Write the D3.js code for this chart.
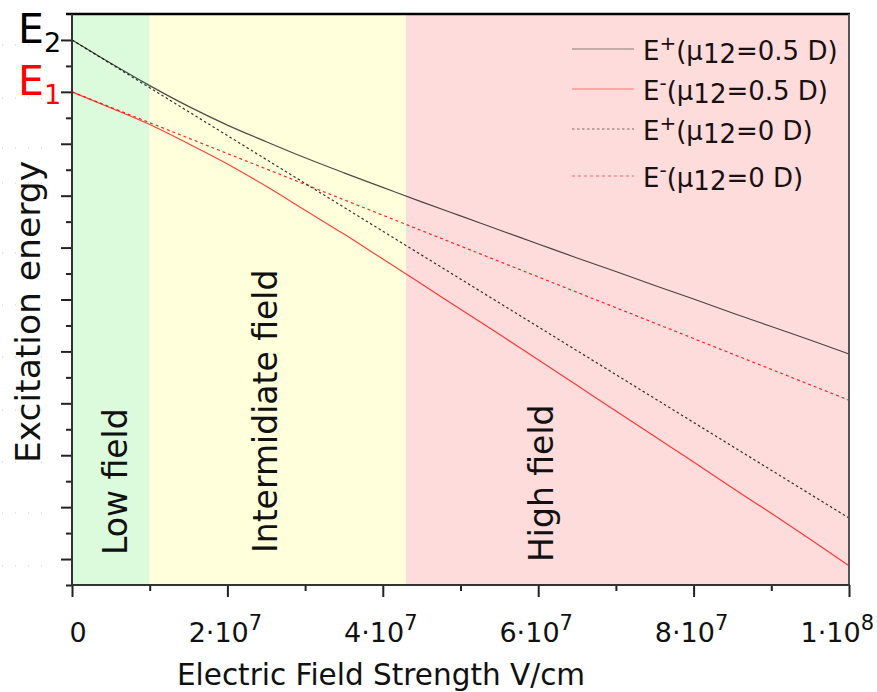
<!DOCTYPE html>
<html>
<head>
<meta charset="utf-8">
<script src="https://cdn.jsdelivr.net/npm/d3@7"></script>
<style>
    body { margin: 0; background: #fff; }
    text { font-family: "DejaVu Sans", Verdana, sans-serif; }
</style>
</head>
<body>
<svg id="chart" width="877" height="692"></svg>
<script>

// field strength in V/cm, energies in units of the E2-E1 splitting (E2 = 0)
const fieldStrength = [0, 5e6, 1e7, 1.5e7, 2e7, 2.5e7, 3e7, 3.5e7, 4e7, 4.5e7, 5e7,
    5.5e7, 6e7, 6.5e7, 7e7, 7.5e7, 8e7, 8.5e7, 9e7, 9.5e7, 1e8]
const ePlusCoupled = [0, -0.45, -0.88, -1.28, -1.64, -1.96, -2.27, -2.56, -2.84, -3.12, -3.39,
    -3.66, -3.93, -4.20, -4.46, -4.73, -4.99, -5.26, -5.52, -5.78, -6.05]
const eMinusCoupled = [-1, -1.31, -1.63, -2.00, -2.39, -2.82, -3.28, -3.74, -4.22, -4.70, -5.19,
    -5.67, -6.16, -6.65, -7.15, -7.64, -8.13, -8.63, -9.12, -9.62, -10.13]

const fieldEnds = [0, 1e8]
const ePlusFree = [0, -9.21]
const eMinusFree = [-1, -6.94]

const regionBounds = [0, 1e7, 4.3e7, 1e8]
const regionNames = ["Low field", "Intermidiate field", "High field"]
const regionColors = ["#dcfadc", "#ffffdc", "#ffdcdc"]

const xTicks = [0, 2e7, 4e7, 6e7, 8e7, 1e8]
const xTickMantissa = ["0", "2·10", "4·10", "6·10", "8·10", "1·10"]
const xTickExponent = ["", "7", "7", "7", "7", "8"]

const legendSup = ["+", "-", "+", "-"]
const legendMu = ["=0.5 D)", "=0.5 D)", "=0 D)", "=0 D)"]


function drawChart() {

    const width = 877
    const height = 692
    const margin = { top: 14, right: 28, bottom: 107, left: 72 }

    const svg = d3.select('#chart')

    const xScale = d3.scaleLinear()
        .domain([0, 1e8])
        .range([margin.left, width - margin.right])

    const yScale = d3.scaleLinear()
        .domain([-10.5, 0.5])
        .range([height - margin.bottom, margin.top])

    const y0 = yScale.range()[0]
    const y1 = yScale.range()[1]

    // coloured field regions
    svg.selectAll('.region')
        .data(regionNames)
        .enter()
        .append('rect')
        .attr('x', (d, i) => xScale(regionBounds[i]))
        .attr('y', y1)
        .attr('width', (d, i) => xScale(regionBounds[i + 1]) - xScale(regionBounds[i]))
        .attr('height', y0 - y1)
        .attr('fill', (d, i) => regionColors[i])

    // region labels, rotated
    const labelX = [127, 277, 553]
    const labelY = [555, 553, 562]
    svg.selectAll('.regionLabel')
        .data(regionNames)
        .enter()
        .append('text')
        .attr('transform', (d, i) => 'translate(' + labelX[i] + ',' + labelY[i] + ') rotate(-90)')
        .style('font-size', '33px')
        .attr('fill', '#111')
        .text(d => d)

    // curves
    const line = d3.line()
        .x(d => xScale(d[0]))
        .y(d => yScale(d[1]))
        .curve(d3.curveMonotoneX)

    const series = [
        { pts: d3.zip(fieldStrength, ePlusCoupled), color: '#000', op: 0.7, dash: null },
        { pts: d3.zip(fieldStrength, eMinusCoupled), color: '#ff0000', op: 0.75, dash: null },
        { pts: d3.zip(fieldEnds, ePlusFree), color: '#000', op: 0.8, dash: '2.5,2.5' },
        { pts: d3.zip(fieldEnds, eMinusFree), color: '#ff0000', op: 0.85, dash: '3,3' }
    ]

    svg.selectAll('.curve')
        .data(series)
        .enter()
        .append('path')
        .attr('d', d => line(d.pts))
        .attr('fill', 'none')
        .attr('stroke', d => d.color)
        .attr('stroke-opacity', d => d.op)
        .attr('stroke-width', 1.2)
        .attr('stroke-dasharray', d => d.dash)

    // legend
    const legendY = [49, 89, 129, 176]
    const lg = svg.append('g')
    series.forEach(function (s, i) {
        lg.append('line')
            .attr('x1', 572).attr('x2', 634)
            .attr('y1', legendY[i]).attr('y2', legendY[i])
            .attr('stroke', s.color)
            .attr('stroke-opacity', s.op * 0.65)
            .attr('stroke-width', 1.2)
            .attr('stroke-dasharray', s.dash)

        const t = lg.append('text')
            .attr('x', 643)
            .attr('y', legendY[i] + 11)
            .style('font-size', '26px')
            .attr('fill', '#1a1010')
        t.append('tspan').text('E')
        t.append('tspan').attr('dy', -10).style('font-size', '20px').text(legendSup[i])
        t.append('tspan').attr('dy', 10).text('(μ')
        t.append('tspan').attr('dy', 3).text('12')
        t.append('tspan').attr('dy', -3).text(legendMu[i])
    })

    // faint dotted rests at the left edge
    const ghostY = [45, 98, 148, 183, 253, 305, 357, 410, 462, 513, 566]
    svg.selectAll('.ghost')
        .data(ghostY)
        .enter()
        .append('line')
        .attr('x1', 2).attr('x2', 42)
        .attr('y1', d => d).attr('y2', d => d)
        .attr('stroke', '#c8c8c8')
        .attr('stroke-dasharray', '1,12')

    // y axis: major and minor ticks
    const yMajor = d3.range(-10, 1, 1)
    const yMinor = d3.range(-10.5, 0, 1)

    svg.append('g')
        .attr('transform', 'translate(' + margin.left + ',0)')
        .call(d3.axisLeft(yScale).tickValues(yMinor).tickSize(6).tickFormat(''))
        .call(g => g.select('.domain').remove())
        .selectAll('line').attr('stroke-width', 2).attr('stroke', '#222')

    svg.append('g')
        .attr('transform', 'translate(' + margin.left + ',0)')
        .call(d3.axisLeft(yScale).tickValues(yMajor).tickSize(11).tickFormat(''))
        .call(g => g.select('.domain').remove())
        .selectAll('line').attr('stroke-width', 2).attr('stroke', '#222')

    // x axis
    const xMinor = [1e7, 3e7, 5e7, 7e7, 9e7]
    svg.append('g')
        .attr('transform', 'translate(0,' + y0 + ')')
        .call(d3.axisBottom(xScale).tickValues(xMinor).tickSize(6).tickFormat(''))
        .call(g => g.select('.domain').remove())
        .selectAll('line').attr('stroke-width', 2).attr('stroke', '#222')

    svg.append('g')
        .attr('transform', 'translate(0,' + y0 + ')')
        .call(d3.axisBottom(xScale).tickValues(xTicks).tickSize(12).tickFormat(''))
        .call(g => g.select('.domain').remove())
        .selectAll('line').attr('stroke-width', 2).attr('stroke', '#222')

    // frame
    svg.append('line')
        .attr('x1', 66).attr('x2', xScale(1e8) + 1)
        .attr('y1', y1).attr('y2', y1)
        .attr('stroke', '#000').attr('stroke-width', 2.5)
    svg.append('line')
        .attr('x1', xScale(1e8)).attr('x2', xScale(1e8))
        .attr('y1', y1).attr('y2', y0)
        .attr('stroke', '#555').attr('stroke-width', 2)
    svg.append('line')
        .attr('x1', margin.left).attr('x2', margin.left)
        .attr('y1', y1).attr('y2', y0 + 1)
        .attr('stroke', '#333').attr('stroke-width', 2)
    svg.append('line')
        .attr('x1', margin.left - 1).attr('x2', xScale(1e8) + 1)
        .attr('y1', y0).attr('y2', y0)
        .attr('stroke', '#333').attr('stroke-width', 2)

    // x tick labels with exponents
    const xl = svg.selectAll('.xlabel')
        .data(xTicks)
        .enter()
        .append('text')
        .attr('x', (d, i) => i == 0 ? xScale(d) + 6 : (i == xTicks.length - 1 ? 874 : xScale(d) - 2))
        .attr('y', 642)
        .attr('text-anchor', (d, i) => i == xTicks.length - 1 ? 'end' : 'middle')
        .style('font-size', '27px')
        .attr('fill', '#111')
    xl.append('tspan').text((d, i) => xTickMantissa[i])
    xl.append('tspan').attr('dy', -12).style('font-size', '21px').text((d, i) => xTickExponent[i])

    // level labels E2 and E1
    const levels = [{ v: 0, sub: '2', color: '#000' }, { v: -1, sub: '1', color: '#ff0000' }]
    levels.forEach(function (l) {
        const t = svg.append('text')
            .attr('x', 18)
            .attr('y', yScale(l.v) + 3)
            .style('font-size', '41px')
            .attr('fill', l.color)
        t.append('tspan').text('E')
        t.append('tspan').attr('dy', 9).style('font-size', '27px').text(l.sub)
    })

    // axis titles
    svg.append('text')
        .attr('x', 381)
        .attr('y', 685)
        .attr('text-anchor', 'middle')
        .style('font-size', '29.5px')
        .attr('fill', '#111')
        .text('Electric Field Strength V/cm')

    svg.append('text')
        .attr('transform', 'translate(40,' + 312 + ') rotate(-90)')
        .attr('text-anchor', 'middle')
        .style('font-size', '34.5px')
        .attr('fill', '#111')
        .text('Excitation energy')
}

drawChart()

</script>
</body>
</html>
